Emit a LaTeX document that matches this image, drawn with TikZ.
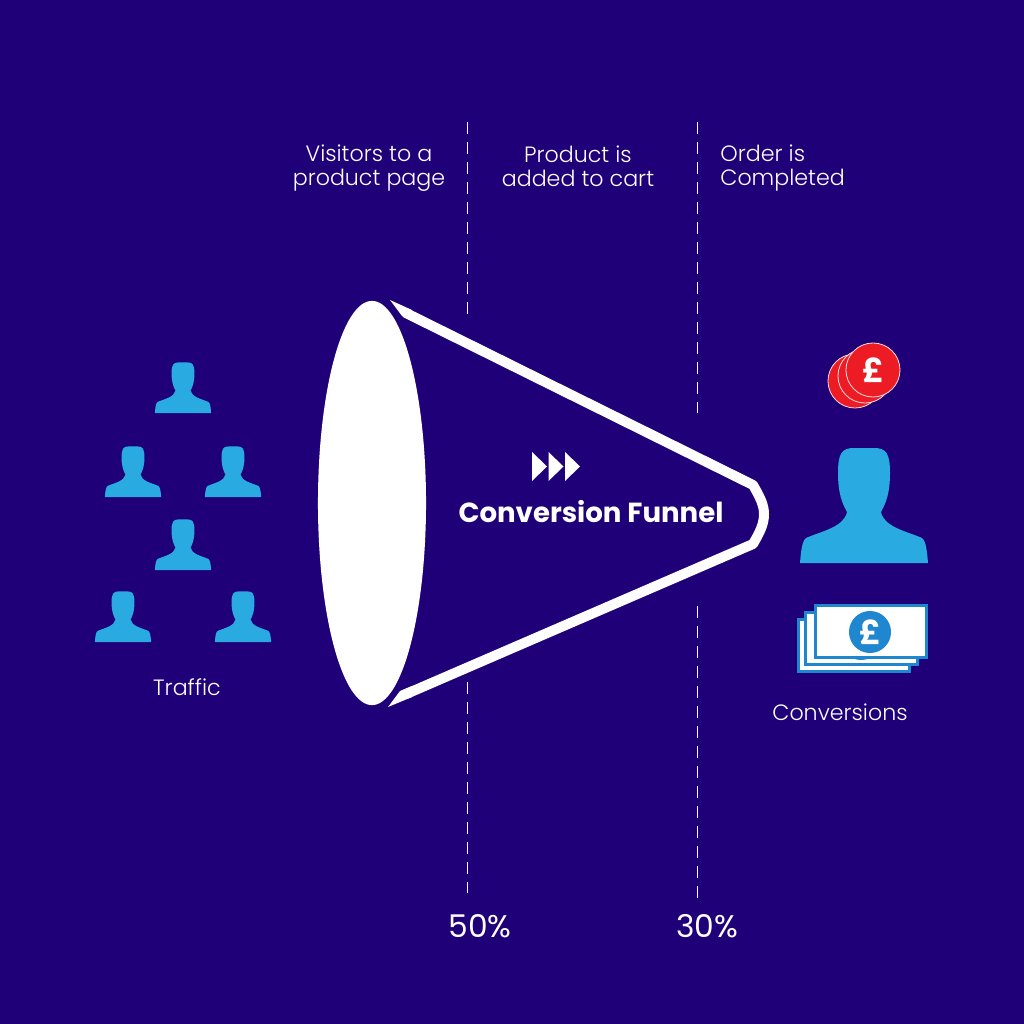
\documentclass[tikz,border=0pt]{standalone}
\usepackage{fontspec}
\usetikzlibrary{shapes.geometric}
\setmainfont[BoldFont={Poppins Bold}]{Poppins Light}
\newfontfamily\percentfont{Poppins}
\definecolor{bgblue}{HTML}{1F0079}
\definecolor{personblue}{HTML}{29ABE2}
\definecolor{moneyblue}{HTML}{1F87D0}
\definecolor{coinred}{HTML}{ED1C24}
\tikzset{
    person/.pic={
        \fill[personblue] (-64,0) .. controls (-63,-12) and (-62,-22) .. (-58,-25)
            .. controls (-42,-32) and (-20,-36) .. (-17,-51)
            .. controls (-22,-60) and (-26,-70) .. (-26,-90)
            .. controls (-26,-110) and (-22,-115) .. (-10,-115)
            -- (10,-115)
            .. controls (22,-115) and (26,-110) .. (26,-90)
            .. controls (26,-70) and (22,-60) .. (17,-51)
            .. controls (20,-36) and (42,-32) .. (58,-25)
            .. controls (62,-22) and (63,-12) .. (64,0) -- cycle;
    },
    caption/.style={text=white, align=center, font=\fontsize{6.3}{6.9}\selectfont},
    percent/.style={text=white, font=\percentfont\fontsize{8.9}{9}\selectfont},
    divider/.style={white, line width=0.01cm, dash pattern=on 0.115cm off 0.085cm},
    note/.style={draw=moneyblue, fill=white, line width=0.03cm},
    coin/.style={draw=white!85!coinred, fill=coinred, line width=0.008cm, circle, minimum size=0.54cm, inner sep=0pt},
    pound/.style={text=white, font=\fontsize{9.4}{9}\selectfont\bfseries}
}
\begin{document}
\begin{tikzpicture}[x=0.01cm, y=-0.01cm]
    % background
    \fill[bgblue] (0,0) rectangle (1024,1024);
    \useasboundingbox (0,0) rectangle (1024,1024);

    % divider lines
    \coordinate (d1a) at (467,122);
    \coordinate (d1b) at (467,314);
    \coordinate (d1c) at (467,682);
    \coordinate (d1d) at (467,893);
    \coordinate (d2a) at (697,122);
    \coordinate (d2b) at (697,413);
    \coordinate (d2c) at (697,606);
    \coordinate (d2d) at (697,900);
    \draw[divider] (d1a) -- (d1b);
    \draw[divider] (d1c) -- (d1d);
    \draw[divider] (d2a) -- (d2b);
    \draw[divider] (d2c) -- (d2d);

    % funnel
    \draw[white, line width=0.1cm, line join=round] (405,312.5) -- (753,485)
        .. controls (760,497) and (764,505) .. (764,514)
        .. controls (764,524) and (760,532) .. (753,544) -- (405,694.5);
    \fill[white] (390,300) -- (412,310) -- (412,321) -- (402,316) -- cycle;
    \fill[white] (388,707) -- (412,697) -- (412,686) -- (400,691) -- cycle;
    \node[ellipse, fill=white, minimum width=1.08cm, minimum height=4.04cm, inner sep=0pt] (mouth) at (372,503) {};

    % arrows and title
    \foreach \x in {532,548.5,565}
        \fill[white] (\x,452) -- (\x+15,466.5) -- (\x,481) -- cycle;
    \node[text=white, font=\fontsize{7.85}{9}\selectfont\bfseries] (title) at (591,512) {Conversion Funnel};

    % column labels
    \node[caption] (visitors) at (369,168) {Visitors to a\\product page};
    \node[caption] (cart) at (578,166) {Product is\\added to cart};
    \node[caption, align=left, anchor=west] (order) at (708,168) {Order is\\Completed};
    \node[percent] (fifty) at (480,926) {50\%};
    \node[percent] (thirty) at (707,926) {30\%};

    % traffic
    \pic[scale=.44] at (183,413) {person};
    \pic[scale=.44] at (133,497) {person};
    \pic[scale=.44] at (233,497) {person};
    \pic[scale=.44] at (183,570) {person};
    \pic[scale=.44] at (123,642) {person};
    \pic[scale=.44] at (243,642) {person};
    \node[caption] (traffic) at (187,687) {Traffic};

    % coins
    \node[coin] (coin3) at (855,381) {};
    \node[coin] (coin2) at (865,376) {};
    \node[coin, pound] (coin1) at (873,370) {£};

    % converted person
    \pic at (864,563) {person};

    % banknotes
    \draw[note] (798,619) rectangle (909,671);
    \draw[note] (805,612) rectangle (917,664);
    \fill[moneyblue] (861,639) circle (21);
    \draw[note] (815,605) rectangle (926,657);
    \node[circle, fill=moneyblue, minimum size=0.42cm, inner sep=0pt, pound] (bill) at (870,632) {£};
    \node[caption] (conversions) at (840,712) {Conversions};
\end{tikzpicture}
\end{document}
